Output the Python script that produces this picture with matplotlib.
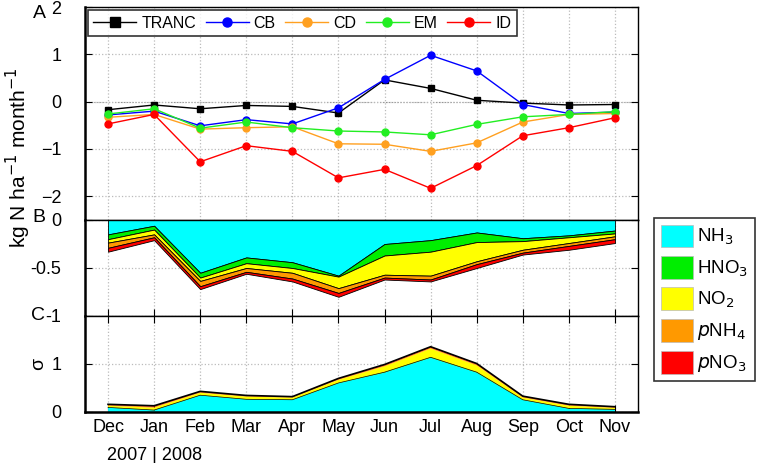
import numpy as np
import matplotlib
matplotlib.use("Agg")
import matplotlib.pyplot as plt
from matplotlib.patches import Patch

plt.rcParams['font.family'] = ['Liberation Sans', 'DejaVu Sans']

months = ['Dec', 'Jan', 'Feb', 'Mar', 'Apr', 'May', 'Jun', 'Jul', 'Aug', 'Sep', 'Oct', 'Nov']

# panel A: monthly flux by method
tranc = [-0.17, -0.07, -0.15, -0.08, -0.10, -0.24, 0.46, 0.28, 0.03, -0.03, -0.07, -0.06]
cb = [-0.28, -0.20, -0.51, -0.38, -0.47, -0.13, 0.47, 0.98, 0.65, -0.06, -0.25, -0.22]
cd = [-0.33, -0.27, -0.58, -0.55, -0.53, -0.89, -0.90, -1.05, -0.87, -0.43, -0.27, -0.25]
em = [-0.26, -0.15, -0.56, -0.43, -0.55, -0.62, -0.64, -0.70, -0.48, -0.32, -0.27, -0.21]
idm = [-0.47, -0.27, -1.27, -0.93, -1.05, -1.61, -1.43, -1.83, -1.35, -0.72, -0.55, -0.34]

# panel B: deposition by species (magnitudes, stacked downward)
b_nh3 = [0.15, 0.06, 0.55, 0.39, 0.44, 0.58, 0.25, 0.21, 0.13, 0.19, 0.16, 0.11]
b_hno3 = [0.05, 0.04, 0.05, 0.06, 0.06, 0.01, 0.12, 0.12, 0.10, 0.03, 0.02, 0.03]
b_no2 = [0.036, 0.05, 0.035, 0.05, 0.05, 0.12, 0.20, 0.25, 0.20, 0.09, 0.06, 0.03]
b_pnh4 = [0.054, 0.03, 0.055, 0.04, 0.06, 0.05, 0.03, 0.04, 0.03, 0.03, 0.03, 0.03]
b_pno3 = [0.04, 0.03, 0.03, 0.02, 0.03, 0.04, 0.02, 0.02, 0.04, 0.02, 0.04, 0.04]

# panel C: uncertainty by species (stacked upward)
c_nh3 = [0.09, 0.035, 0.345, 0.26, 0.25, 0.60, 0.82, 1.13, 0.82, 0.25, 0.07, 0.05]
c_hno3 = [0.005, 0.005, 0.005, 0.005, 0.005, 0.005, 0.01, 0.01, 0.01, 0.005, 0.005, 0.005]
c_no2 = [0.035, 0.05, 0.05, 0.055, 0.045, 0.065, 0.12, 0.18, 0.14, 0.045, 0.055, 0.03]
c_pnh4 = [0.015, 0.02, 0.015, 0.015, 0.01, 0.015, 0.02, 0.02, 0.02, 0.015, 0.015, 0.013]
c_pno3 = [0.015, 0.02, 0.015, 0.01, 0.01, 0.015, 0.02, 0.02, 0.02, 0.015, 0.015, 0.012]

species = ['NH$_3$', 'HNO$_3$', 'NO$_2$', '$p$NH$_4$', '$p$NO$_3$']
sp_colors = ['#00ffff', '#00ee00', '#ffff00', '#ff9900', '#ff0000']

x = np.arange(len(months))
W, H = 761, 463
fig = plt.figure(figsize=(W / 100, H / 100), dpi=100)

def frac_axes(top, bottom):
    return fig.add_axes([85 / W, 1 - bottom / H, 553 / W, (bottom - top) / H])

axA = frac_axes(7, 220)
axB = frac_axes(220, 316)
axC = frac_axes(316, 412)

for ax in (axA, axB, axC):
    ax.set_xlim(-0.5, 11.5)
    ax.set_xticks(x)
    ax.grid(True, color='#bbbbbb', linestyle=':', linewidth=0.9)
    ax.set_axisbelow(True)
    ax.tick_params(direction='in', labelsize=13, pad=17, right=True, top=True, length=5)
    ax.tick_params(axis='x', pad=5)
    for s in ax.spines.values():
        s.set_linewidth(1.0)
    ax.spines['left'].set_linewidth(1.8)

# A
axA.plot(x, tranc, '-s', color='black', lw=1, ms=5, label='TRANC')
axA.plot(x, cb, '-o', color='#0000ff', lw=1, ms=5, label='CB')
axA.plot(x, cd, '-o', color='#ffa020', lw=1, ms=5, label='CD')
axA.plot(x, em, '-o', color='#22ee22', lw=1, ms=5, label='EM')
axA.plot(x, idm, '-o', color='#ff0000', lw=1, ms=5, label='ID')
axA.set_ylim(-2.5, 2)
axA.set_yticks([-2, -1, 0, 1, 2])
axA.tick_params(axis='x', labelbottom=False, length=0)
axA.axhline(0, color='#888888', lw=0.8, ls=':', zorder=0)
leg = axA.legend(loc='upper left', bbox_to_anchor=(0.005, 0.985), ncol=5, fontsize=11.5,
                 frameon=True, fancybox=False, edgecolor='black', handlelength=2.7,
                 columnspacing=0.6, handletextpad=0.3, borderpad=0.35, borderaxespad=0,
                 markerscale=1.3)
leg.get_frame().set_linewidth(1.2)

# B
b_layers = [b_nh3, b_hno3, b_no2, b_pnh4, b_pno3]
lower = np.zeros(len(x))
for vals, col in zip(b_layers, sp_colors):
    upper = lower - np.array(vals)
    axB.fill_between(x, lower, upper, facecolor=col, edgecolor='black', linewidth=0.6)
    lower = upper
axB.set_ylim(-1, 0)
axB.set_yticks([-1, -0.5, 0])
axB.set_yticklabels(['-1', '-0.5', '0'])
axB.tick_params(axis='x', labelbottom=False, top=False)

# C
c_layers = [c_nh3, c_hno3, c_no2, c_pnh4, c_pno3]
lower = np.zeros(len(x))
for vals, col in zip(c_layers, sp_colors):
    upper = lower + np.array(vals)
    axC.fill_between(x, lower, upper, facecolor=col, edgecolor='none', linewidth=0)
    lower = upper
axC.plot(x, lower, color='black', lw=1.2)
axC.plot(x, np.array(c_nh3) + np.array(c_hno3), color='black', lw=0.5)
axC.set_ylim(0, 2)
axC.set_yticks([0, 1])
axC.set_xticklabels(months)
axC.spines['bottom'].set_linewidth(1.8)

# texts
fig.text(18 / W, 1 - 158 / H, 'kg N ha$^{-1}$ month$^{-1}$', rotation=90, fontsize=15,
         ha='center', va='center')
fig.text(39 / W, 1 - 14 / H, 'A', fontsize=14, ha='center', va='center')
fig.text(39 / W, 1 - 217 / H, 'B', fontsize=14, ha='center', va='center')
fig.text(38 / W, 1 - 316 / H, 'C', fontsize=14, ha='center', va='center')
fig.text(39 / W, 1 - 364 / H, 'σ', fontsize=14, rotation=90, ha='center', va='center')
fig.text(107 / W, 1 - 455 / H, '2007 | 2008', fontsize=13, ha='left', va='center')

# species legend
handles = [Patch(facecolor=c, edgecolor='#bbbbbb', linewidth=0.5) for c in sp_colors]
leg2 = fig.legend(handles, species, loc='upper left', bbox_to_anchor=(654 / W, 1 - 218 / H),
                  fontsize=13.5, frameon=True, fancybox=False, edgecolor='black',
                  handlelength=1.75, handleheight=1.5, handletextpad=0.2,
                  labelspacing=0.45, borderpad=0.35, borderaxespad=0)
leg2.get_frame().set_linewidth(1.2)

fig.savefig('out.png', dpi=100)
